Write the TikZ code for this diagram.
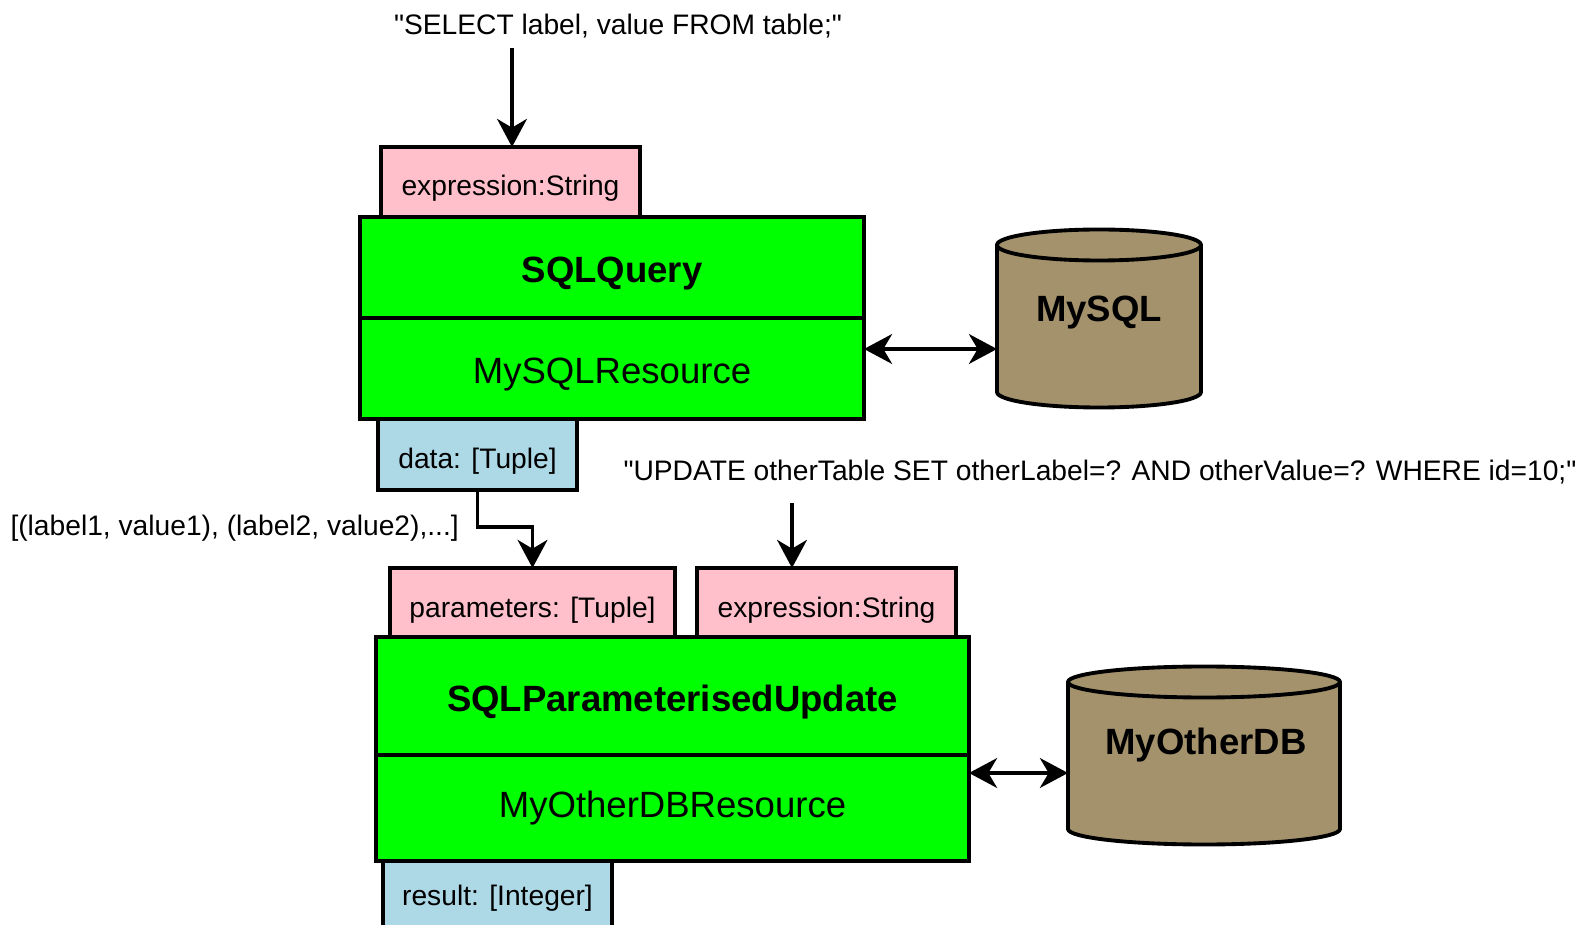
\documentclass[tikz,border=0pt]{standalone}
\usepackage{fontspec}
\setmainfont{Liberation Sans}
\usetikzlibrary{arrows.meta}
\definecolor{pinkbox}{HTML}{FFC0CB}
\definecolor{greenbox}{HTML}{00FF00}
\definecolor{bluebox}{HTML}{ADD8E6}
\definecolor{dbtan}{RGB}{163,146,107}
\newcommand\dbcyl[5]{%
  \pgfmathsetmacro\cylcx{(#1+#2)/2}%
  \pgfmathsetmacro\cylkx{0.5523*(#2-#1)/2}%
  \pgfmathsetmacro\cylky{0.5523*#5}%
  \filldraw[cylbody] (#1,#3) -- (#1,#4)
    .. controls (#1,#4+\cylky) and (\cylcx-\cylkx,#4+#5) .. (\cylcx,#4+#5)
    .. controls (\cylcx+\cylkx,#4+#5) and (#2,#4+\cylky) .. (#2,#4)
    -- (#2,#3)
    .. controls (#2,#3-\cylky) and (\cylcx+\cylkx,#3-#5) .. (\cylcx,#3-#5)
    .. controls (\cylcx-\cylkx,#3-#5) and (#1,#3-\cylky) .. (#1,#3) -- cycle;
  \draw[cylbody,fill=none] (#1,#3)
    .. controls (#1,#3+\cylky) and (\cylcx-\cylkx,#3+#5) .. (\cylcx,#3+#5)
    .. controls (\cylcx+\cylkx,#3+#5) and (#2,#3+\cylky) .. (#2,#3);
}
\begin{document}
\begin{tikzpicture}[x=0.02cm,y=-0.02cm,
  box/.style={draw=black, line width=2.2pt, inner sep=0pt, outer sep=0pt, anchor=north west},
  sz/.style 2 args={minimum width=#1*0.02cm, minimum height=#2*0.02cm},
  small/.style={font=\fontsize{16.05}{19}\selectfont},
  smallbox/.style={small, text height=19pt, text depth=3.4pt},
  big/.style={font=\fontsize{20.8}{25}\selectfont},
  bigb/.style={font=\fontsize{20.8}{25}\selectfont\bfseries},
  bigbox/.style={text height=21.5pt, text depth=4.4pt},
  cylbody/.style={draw=black, fill=dbtan, line width=2.2pt, line join=round},
  arr/.style={line width=1.8pt, -{Stealth[length=16pt,width=17pt,inset=5pt]}},
  dbl/.style={line width=1.8pt, {Stealth[length=16pt,width=17pt,inset=5pt]}-{Stealth[length=16pt,width=17pt,inset=5pt]}},
]
\clip (0,0) rectangle (1583,925);
\fill[white] (0,0) rectangle (1583,925);

% first component
\node[box, sz={259}{70}, fill=pinkbox, smallbox] (expr1) at (381,147) {expression:String};
\node[box, sz={199}{71}, fill=bluebox, smallbox] (data) at (378,419) {data: [Tuple]};
\node[box, sz={504}{101}, fill=greenbox, bigb, bigbox] (q1) at (360,217) {SQLQuery};
\node[box, sz={504}{101}, fill=greenbox, big, bigbox] (r1) at (360,318) {MySQLResource};

% second component
\node[box, sz={285}{69}, fill=pinkbox, smallbox, text height=20.5pt] (params) at (390,568) {parameters: [Tuple]};
\node[box, sz={259}{69}, fill=pinkbox, smallbox, text height=20.5pt] (expr2) at (697,568) {expression:String};
\node[box, sz={229}{70}, fill=bluebox, smallbox] (result) at (383,857) {result: [Integer]};
\node[box, sz={593}{118}, fill=greenbox, bigb, bigbox] (q2) at (376,637) {SQLParameterisedUpdate};
\node[box, sz={593}{106}, fill=greenbox, big] (r2) at (376,755) {MyOtherDBResource};

% databases
\dbcyl{997}{1201}{245}{392}{15.5}
\node[bigb] (mysql) at (1099,313) {MySQL};
\dbcyl{1068}{1340}{682}{829}{15.5}
\node[bigb] (otherdb) at (1206,745) {MyOtherDB};

% text labels
\node[small] (sel) at (618,26) {\textquotedbl SELECT label, value FROM table;\textquotedbl};
\node[small] (upd) at (1100,472) {\textquotedbl UPDATE otherTable SET otherLabel=? AND otherValue=? WHERE id=10;\textquotedbl};
\node[small, anchor=east] (lbl) at (465,528) {[(label1, value1), (label2, value2),...]};

% connectors
\coordinate (selarr) at (512,48);
\draw[arr] (selarr) -- (selarr |- expr1.north);
\coordinate (updarr) at (792,503);
\draw[arr] (updarr) -- (updarr |- expr2.north);
\coordinate (bend) at (0,527);
\draw[arr] (data.south) -- (data.south |- bend) -| (params.north);
\coordinate (mysqlL) at (997,349);
\draw[dbl] (mysqlL -| r1.east) -- (mysqlL);
\coordinate (otherL) at (1068,773);
\draw[dbl] (otherL -| r2.east) -- (otherL);
\end{tikzpicture}
\end{document}
